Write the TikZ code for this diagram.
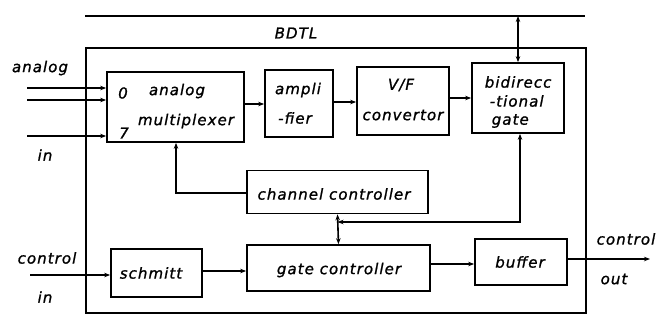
\documentclass[tikz,border=0pt]{standalone}
\usepackage{fontspec}
\usetikzlibrary{arrows.meta}
\newfontfamily\lblfont[LetterSpace=7,FakeBold=1.2]{DejaVu Sans}
\begin{document}
\begin{tikzpicture}[x=1pt,y=-1pt,
  line width=1.6pt,
  blk/.style={draw,line width=1.7pt,rectangle,inner sep=0pt},
  txt/.style={font=\lblfont\itshape\fontsize{15}{17}\selectfont,inner sep=0pt},
  arr/.style={-{Stealth[length=6pt,width=4.5pt]}},
  darr/.style={{Stealth[length=6pt,width=4.5pt]}-{Stealth[length=6pt,width=4.5pt]}}]
\useasboundingbox (0,0) rectangle (664,322);

% data bus and the outer module frame
\coordinate (busL) at (85,16);
\coordinate (busR) at (585,16);
\draw (busL) -- (busR);
\node[txt] (bdtl) at (296,33) {BDTL};
\node[draw,line width=1.7pt,inner sep=0pt,minimum width=500pt,minimum height=265pt] (frame) at (336,180.5) {};

% function blocks
\node[blk,minimum width=137pt,minimum height=70pt] (mux) at (175.5,107) {};
\node[blk,minimum width=68pt,minimum height=67pt] (amp) at (299,103.5) {};
\node[blk,minimum width=92pt,minimum height=68pt] (vf) at (403,101) {};
\node[blk,minimum width=92pt,minimum height=70pt] (gate) at (518,98) {};
\node[blk,minimum width=181pt,minimum height=43pt] (chan) at (337.5,192) {};
\node[blk,minimum width=183pt,minimum height=46pt] (gctl) at (338.5,268) {};
\node[blk,minimum width=91pt,minimum height=48pt] (sch) at (156.5,273) {};
\node[blk,minimum width=92pt,minimum height=46pt] (buf) at (521,262) {};

% block texts
\node[txt] (m0) at (123,93) {0};
\node[txt] (m7) at (124,133) {7};
\node[txt] (m1) at (177,91) {analog};
\node[txt] (m2) at (186,121) {multiplexer};
\node[txt] (a1) at (298,90) {ampli};
\node[txt] (a2) at (295,118) {-fier};
\node[txt] (v1) at (401,85) {V/F};
\node[txt] (v2) at (403,115) {convertor};
\node[txt,anchor=west] (g1) at (484,82) {bidirecc};
\node[txt,anchor=west] (g2) at (489,101) {-tional};
\node[txt,anchor=west] (g3) at (491,121) {gate};
\node[txt] (c1) at (334,194) {channel controller};
\node[txt] (c2) at (339,270) {gate controller};
\node[txt] (s1) at (151,273) {schmitt};
\node[txt] (b1) at (520,262) {buffer};

% external labels
\node[txt] (ain) at (40,68) {analog};
\node[txt] (ain2) at (45,155) {in};
\node[txt] (cin) at (47,258) {control};
\node[txt] (cin2) at (45,297) {in};
\node[txt] (cout) at (626,239) {control};
\node[txt] (cout2) at (614,279) {out};

% analog input channels
\coordinate (i0) at (27,88);
\coordinate (i1) at (27,100);
\coordinate (i7) at (27,136);
\draw[arr] (i0) -- (i0 -| mux.west);
\draw[arr] (i1) -- (i1 -| mux.west);
\draw[arr] (i7) -- (i7 -| mux.west);

% signal chain
\draw[arr] (mux.east |- 0,104) -- (amp.west |- 0,104);
\draw[arr] (amp.east |- 0,102) -- (vf.west |- 0,102);
\draw[arr] (vf.east |- 0,98) -- (gate.west |- 0,98);
\draw[darr] (busL -| gate.north) -- (gate.north);

% control paths
\coordinate (mc) at (176,193);
\draw[arr] (chan.west |- mc) -- (mc) -- (mc |- mux.south);
\draw[darr] (chan.south) -- (gctl.north);
\coordinate (jn) at (337.5,222);
\coordinate (gb) at (520,222);
\draw[darr] (gb |- gate.south) -- (gb) -- (jn);

\coordinate (ci) at (30,275);
\draw[arr] (ci) -- (ci -| sch.west);
\draw[arr] (sch.east |- 0,271) -- (gctl.west |- 0,271);
\draw[arr] (gctl.east |- 0,264) -- (buf.west |- 0,264);
\coordinate (co) at (650,259);
\draw[arr] (buf.east |- co) -- (co);
\end{tikzpicture}
\end{document}
